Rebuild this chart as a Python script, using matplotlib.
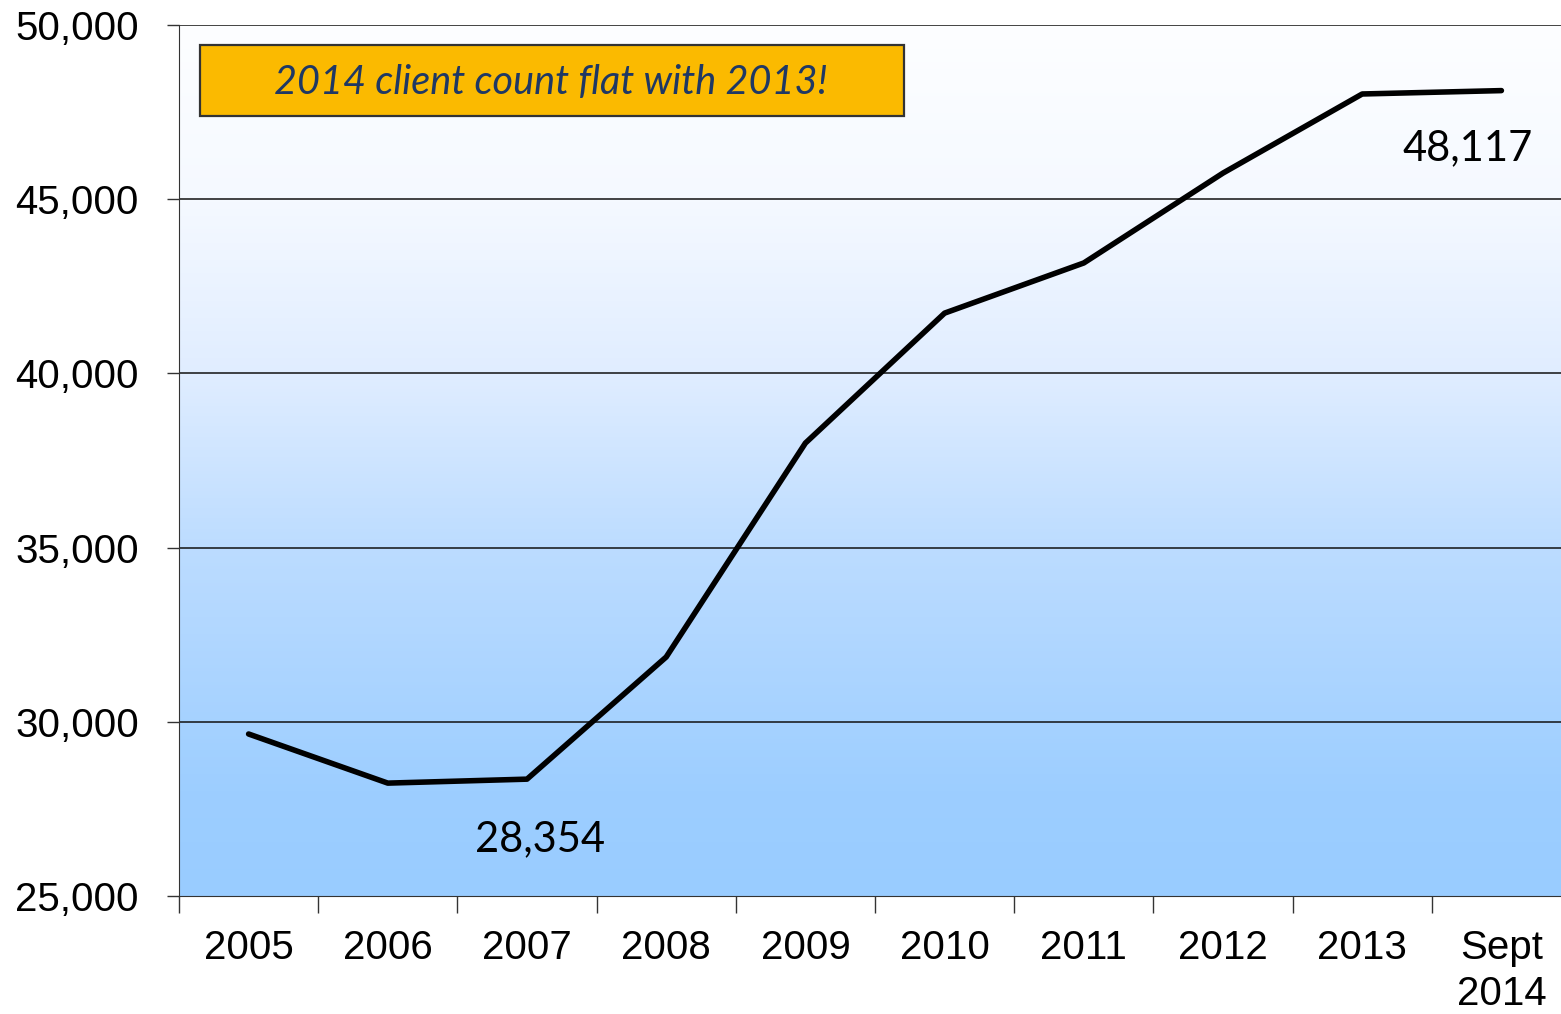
import numpy as np
import matplotlib
matplotlib.use('Agg')
import matplotlib.pyplot as plt
from matplotlib.colors import LinearSegmentedColormap
from matplotlib.patches import Rectangle

categories = ['2005', '2006', '2007', '2008', '2009', '2010', '2011', '2012', '2013', 'Sept\n2014']
clients = [29650, 28240, 28354, 31860, 38000, 41730, 43170, 45750, 48020, 48117]
y_ticks = [25000, 30000, 35000, 40000, 45000, 50000]
note = '2014 client count flat with 2013!'

fig = plt.figure(figsize=(15.61, 10.14), dpi=100)
ax = fig.add_axes([179 / 1561, 1 - 896 / 1014, 1392 / 1561, 871 / 1014])

n = len(categories)
ax.set_xlim(0, n)
ax.set_ylim(25000, 50000)

# background gradient, white at top -> light blue near bottom
grad_cmap = LinearSegmentedColormap.from_list(
    'bg', [(0, '#99ccff'), (0.12, '#9dceff'), (0.4, '#bcdcff'),
           (0.6, '#e0edff'), (0.8, '#f5f9ff'), (1, '#fdfeff')])
grad = np.linspace(0, 1, 256).reshape(-1, 1)
ax.imshow(grad, cmap=grad_cmap, aspect='auto', origin='lower',
          extent=[0, n, 25000, 50000], zorder=0)

for yt in y_ticks[1:]:
    ax.axhline(yt, color='#111111', lw=1.1, zorder=1)

x = np.arange(n) + 0.5
ax.plot(x, clients, color='black', lw=4.0, solid_capstyle='round',
        solid_joinstyle='round', zorder=3)

ax.annotate('28,354', (x[2], clients[2]), xytext=(13, -60), textcoords='offset pixels',
            ha='center', va='center', fontsize=30, family='Lato', zorder=4)
ax.annotate('48,117', (x[9], clients[9]), xytext=(-34, -58), textcoords='offset pixels',
            ha='center', va='center', fontsize=30, family='Lato', zorder=4)

ax.add_patch(Rectangle((0.0151, 0.8955), 0.5057, 0.0815, transform=ax.transAxes,
                       fc='#fbba00', ec='#333333', lw=1.6, zorder=5))
ax.text(0.267, 0.9335, note, transform=ax.transAxes, ha='center', va='center',
        fontsize=28.5, style='italic', color='#1f3864', family='Lato', zorder=6)

ax.set_xticks(np.arange(n + 1))
ax.set_xticklabels([])
ax.set_xticks(x, minor=True)
ax.set_xticklabels(categories, minor=True, fontsize=29, family='Liberation Sans')
ax.tick_params(axis='x', which='major', direction='out', length=12, width=1, color='#333333')
ax.tick_params(axis='x', which='minor', length=0, pad=24)
for lab in ax.get_xticklabels(minor=True):
    lab.set_linespacing(1.25)

ax.set_yticks(y_ticks)
ax.set_yticklabels([f'{v:,}' for v in y_ticks], fontsize=29, family='Liberation Sans')
ax.tick_params(axis='y', direction='out', length=9, width=1, color='#333333', pad=20)

for side in ['top', 'right']:
    ax.spines[side].set_visible(False)
ax.spines['left'].set_color('#333333')
ax.spines['bottom'].set_color('#333333')

fig.savefig('out.png', dpi=100)
